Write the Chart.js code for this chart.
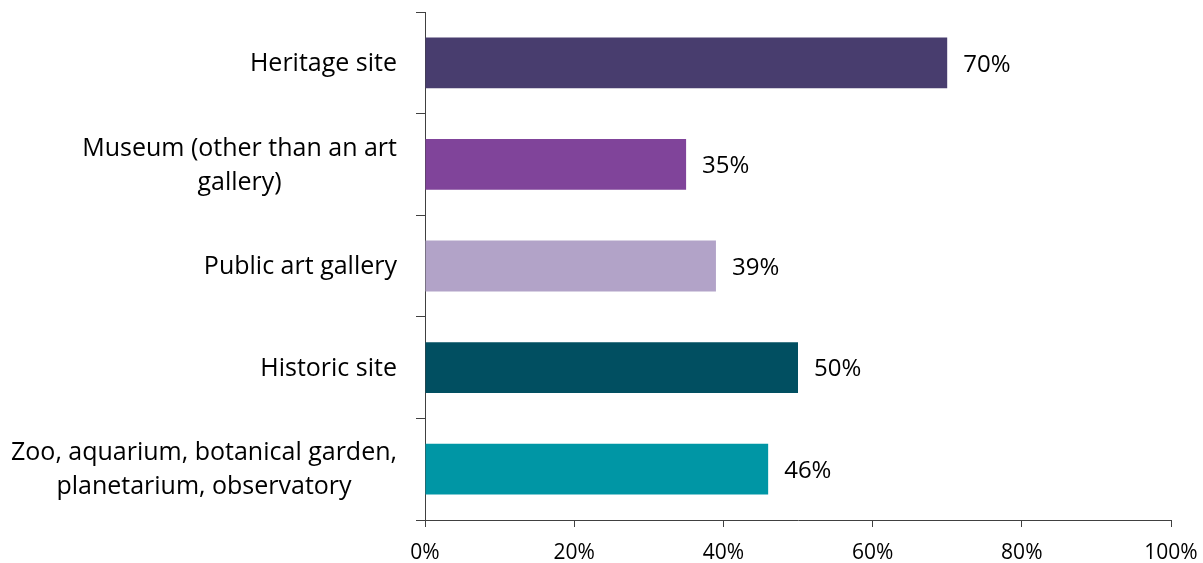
<!DOCTYPE html>
<html>
<head>
<meta charset="utf-8">
<script src="https://cdn.jsdelivr.net/npm/chart.js@4/dist/chart.umd.min.js"></script>
<style>
    html, body { margin: 0; padding: 0; background: #fff; }
    #wrap { width: 1203px; height: 563px; position: relative; }
</style>
</head>
<body>
<div id="wrap"><canvas id="attendChart"></canvas></div>
<script>
// Share of visitors by type of attraction
const categories = [
    ['Heritage site'],
    ['Museum (other than an art', 'gallery)'],
    ['Public art gallery'],
    ['Historic site'],
    ['Zoo, aquarium, botanical garden,', 'planetarium, observatory']
];
const values = [70, 35, 39, 50, 46];
const barColors = ['#483d6e', '#80449a', '#b2a3c8', '#014f61', '#0096a5'];
const xTicks = [0, 20, 40, 60, 80, 100];

const FONT = 'Open Sans';
const INK = '#000000';
const AXIS = '#404040';

// category labels: right aligned as a block, each line centred inside it
const categoryLabels = {
    id: 'categoryLabels',
    afterDraw(chart) {
        const ctx = chart.ctx;
        const y = chart.scales.y;
        const right = y.right - 28;
        const lineH = 34;
        ctx.save();
        ctx.font = `25px "${FONT}"`;
        ctx.fillStyle = INK;
        ctx.textBaseline = 'middle';
        ctx.textAlign = 'center';
        chart.data.labels.forEach((lines, i) => {
            const w = Math.max(...lines.map(l => ctx.measureText(l).width));
            const cx = right - w / 2;
            const cy = y.getPixelForValue(i) + 1;
            const top = cy - (lines.length - 1) * lineH / 2;
            lines.forEach((l, k) => ctx.fillText(l, cx, top + k * lineH));
        });
        ctx.restore();
    }
};

// value labels at the end of each bar
const valueLabels = {
    id: 'valueLabels',
    afterDatasetsDraw(chart) {
        const ctx = chart.ctx;
        const meta = chart.getDatasetMeta(0);
        ctx.save();
        ctx.font = `24px "${FONT}"`;
        ctx.fillStyle = INK;
        ctx.textBaseline = 'middle';
        ctx.textAlign = 'left';
        meta.data.forEach((bar, i) => {
            ctx.fillText(values[i] + '%', bar.x + 16, bar.y + 2);
        });
        ctx.restore();
    }
};

new Chart(document.getElementById('attendChart'), {
    type: 'bar',
    data: {
        labels: categories,
        datasets: [{
            data: values,
            backgroundColor: barColors,
            borderWidth: 0,
            barPercentage: 0.5,
            categoryPercentage: 1.0
        }]
    },
    options: {
        indexAxis: 'y',
        responsive: true,
        maintainAspectRatio: false,
        animation: false,
        layout: { padding: { top: 12, right: 32, bottom: 0, left: 0 } },
        plugins: {
            legend: { display: false },
            tooltip: { enabled: false }
        },
        scales: {
            y: {
                offset: true,
                grid: {
                    offset: true,
                    drawOnChartArea: false,
                    drawTicks: true,
                    tickLength: 9,
                    color: AXIS
                },
                border: { color: AXIS, width: 1 },
                ticks: { display: false },
                afterFit(scale) { scale.width = 425; }
            },
            x: {
                min: 0,
                max: 100,
                afterBuildTicks(scale) {
                    scale.ticks = xTicks.map(v => ({ value: v }));
                },
                grid: {
                    drawOnChartArea: false,
                    drawTicks: true,
                    tickLength: 7,
                    color: AXIS
                },
                border: { color: AXIS, width: 1 },
                ticks: {
                    padding: 13,
                    color: INK,
                    maxRotation: 0,
                    font: { family: FONT, size: 21 },
                    callback: v => v + '%'
                },
                afterFit(scale) {
                    scale.height = 43;
                    // the last tick label may overhang into the right padding
                    scale.paddingLeft = 0;
                    scale.paddingRight = 0;
                }
            }
        }
    },
    plugins: [categoryLabels, valueLabels]
});
</script>
</body>
</html>
